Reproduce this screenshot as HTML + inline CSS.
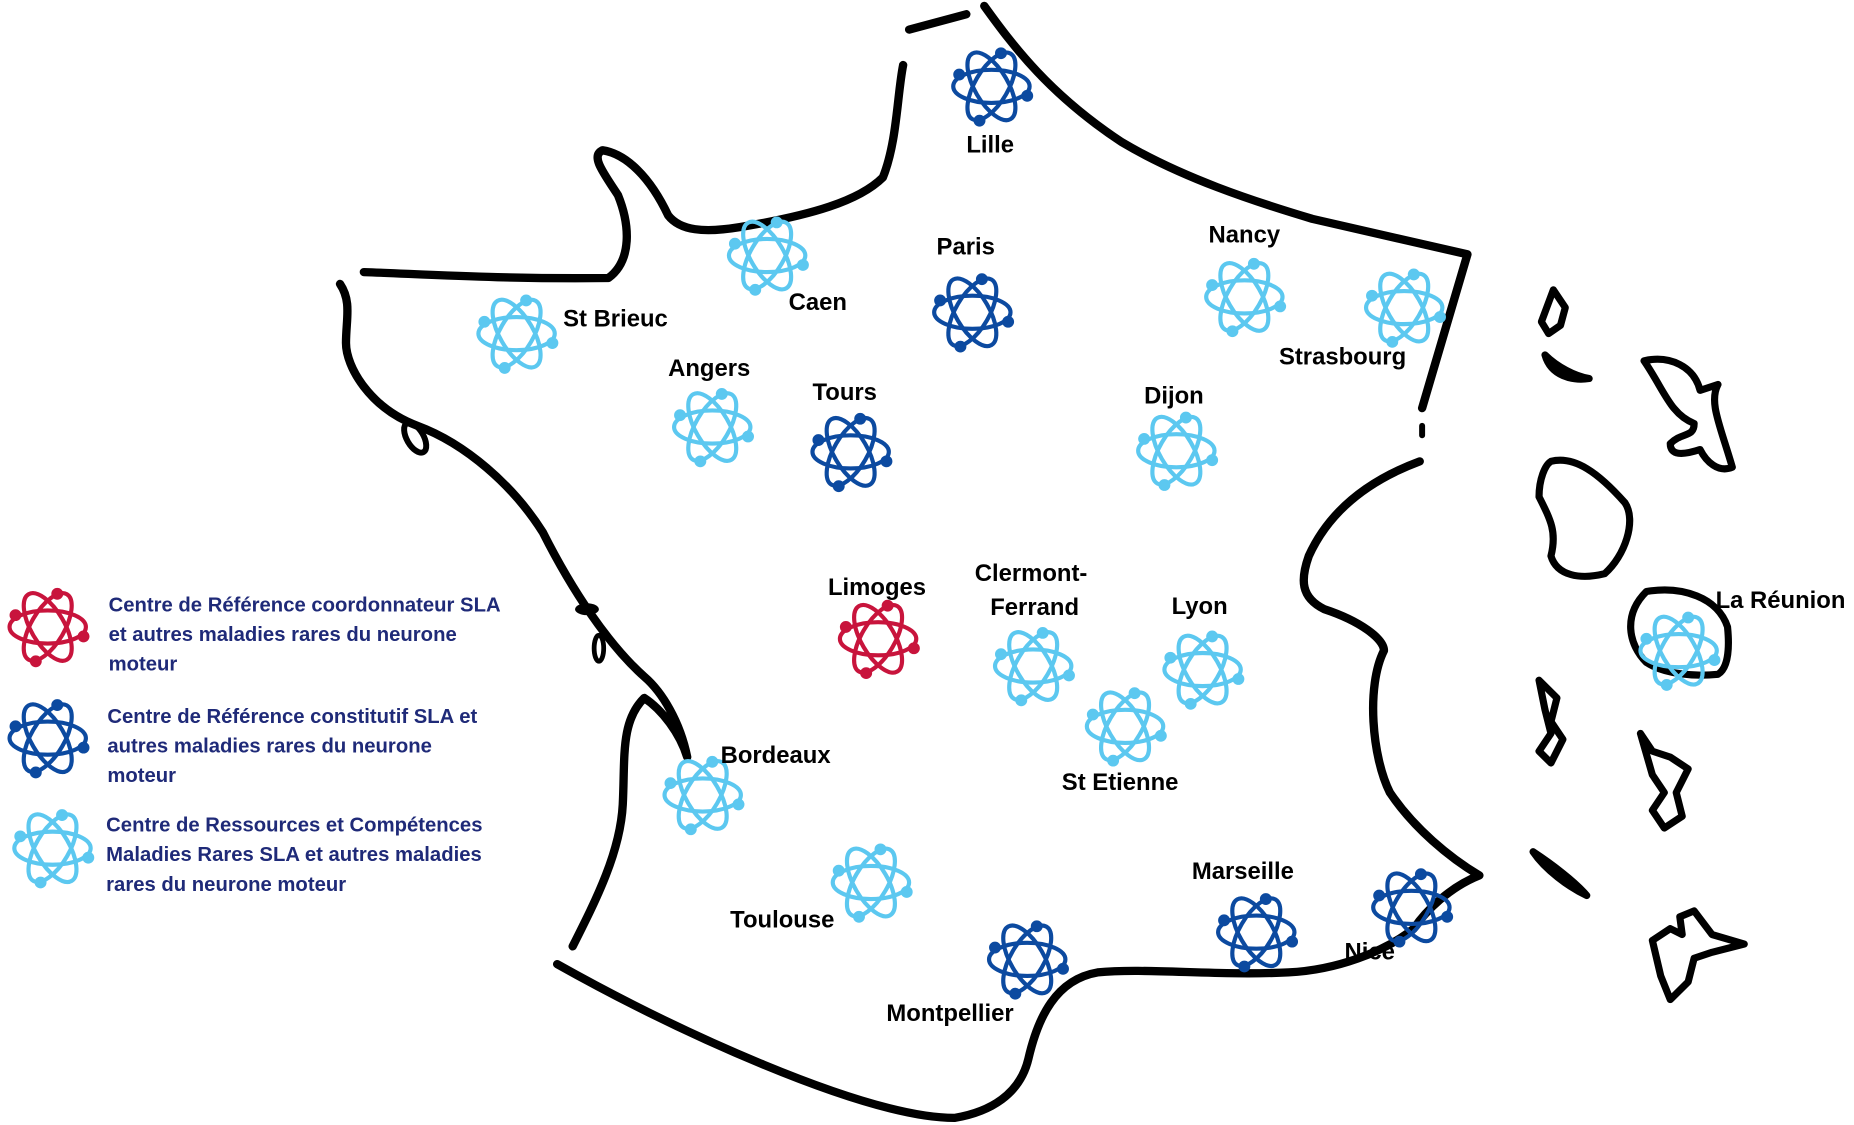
<!DOCTYPE html>
<html><head><meta charset="utf-8"><style>
html,body{margin:0;padding:0;background:#fff;width:1854px;height:1125px;overflow:hidden}
svg{display:block}
text{font-family:"Liberation Sans",sans-serif;font-weight:bold}
</style></head><body>
<svg width="1854" height="1125" viewBox="0 0 1554 951" preserveAspectRatio="none" xmlns="http://www.w3.org/2000/svg">
<defs>
<g id="atom">
<ellipse cx="0" cy="0" rx="32" ry="14" fill="none" stroke-width="3.5"/>
<ellipse cx="0" cy="0" rx="32" ry="14" fill="none" stroke-width="3.5" transform="rotate(60)"/>
<ellipse cx="0" cy="0" rx="32" ry="14" fill="none" stroke-width="3.5" transform="rotate(120)"/>
<circle cx="-27" cy="-10" r="4.5"/><circle cx="30" cy="8" r="4.5"/><circle cx="-10" cy="29" r="4.5"/><circle cx="8" cy="-28" r="4.5"/>
</g>
</defs>
<g fill="none" stroke="#000" stroke-width="7" stroke-linecap="round" stroke-linejoin="round">
<path d="M762 25 L810 12"/>
<path d="M825 5 C850 40 880 80 940 120 C990 150 1050 170 1100 185 L1230 215 C1220 250 1205 300 1192 345"/>
<path d="M1190 390 C1150 405 1115 430 1097 470 C1090 490 1090 505 1110 515 C1140 525 1160 540 1160 550 C1145 580 1150 640 1165 670 C1185 700 1215 725 1240 740 C1215 750 1195 770 1185 785 C1160 805 1120 820 1080 822 C1020 825 960 818 920 822 C885 828 870 860 862 895 C855 925 830 940 800 945 C760 945 700 925 640 900 C580 875 520 845 467 815"/>
<path d="M480 800 C500 760 520 720 522 680 C524 640 520 610 540 590 C555 600 570 620 576 640 C570 610 555 585 540 572 C510 545 480 500 455 450 C430 410 390 375 350 360 C310 345 290 310 290 290 C290 270 295 255 285 240"/>
<path d="M305 230 C360 232 420 236 510 235 C530 220 528 190 518 165 C505 145 495 132 505 127 C525 130 545 150 560 182 C570 195 590 197 620 192 C680 182 720 170 740 150 C752 120 752 80 757 55"/>
<path d="M1192 360 L1192 368" stroke-width="5"/>
</g>
<ellipse cx="348" cy="370" rx="7" ry="14" transform="rotate(-30 348 370)" fill="none" stroke="#000" stroke-width="5"/>
<ellipse cx="492" cy="515" rx="10" ry="5" fill="#000"/>
<ellipse cx="502" cy="548" rx="4" ry="11" fill="none" stroke="#000" stroke-width="4"/>
<g fill="none" stroke="#000" stroke-width="6" stroke-linejoin="round">
<path d="M1302 245 L1312 260 L1308 275 L1298 282 L1292 272 Z"/>
<path d="M1295 300 C1305 310 1320 318 1332 320 C1318 322 1300 318 1295 300 Z"/>
<path d="M1378 305 C1400 300 1420 310 1425 330 L1440 325 C1432 340 1442 360 1452 395 C1440 400 1430 390 1425 380 C1410 385 1400 385 1400 375 C1410 365 1420 370 1420 358 C1400 350 1395 330 1378 305 Z"/>
<path d="M1300 390 C1320 385 1340 400 1362 425 C1372 440 1362 470 1345 485 C1325 490 1305 487 1300 470 C1305 450 1300 440 1290 420 C1290 405 1295 393 1300 390 Z"/>
<path d="M1380 500 C1410 495 1440 505 1448 530 C1450 550 1448 565 1440 570 C1420 572 1395 570 1380 560 C1365 545 1360 520 1380 500 Z"/>
<path d="M1290 575 L1305 590 L1300 610 L1310 625 L1300 645 L1290 635 L1300 620 L1295 600 Z"/>
<path d="M1375 620 L1385 635 L1400 640 L1415 650 L1405 670 L1410 690 L1395 700 L1385 685 L1395 670 L1385 655 Z"/>
<path d="M1285 720 C1300 730 1320 745 1330 757 C1315 750 1295 735 1285 720 Z"/>
<path d="M1385 795 L1400 785 L1410 790 L1408 775 L1420 770 L1435 790 L1462 798 L1435 805 L1420 810 L1415 830 L1400 845 L1392 825 Z"/>
</g>
<g stroke="#c8143c" fill="#c8143c">
<use href="#atom" transform="translate(736,540)"/>
<use href="#atom" transform="translate(40,530)"/>
</g>
<g stroke="#0c4aa0" fill="#0c4aa0">
<use href="#atom" transform="translate(831,73)"/>
<use href="#atom" transform="translate(815,264)"/>
<use href="#atom" transform="translate(713,382)"/>
<use href="#atom" transform="translate(861,811)"/>
<use href="#atom" transform="translate(1053,788)"/>
<use href="#atom" transform="translate(1183,767)"/>
<use href="#atom" transform="translate(40,624)"/>
</g>
<g stroke="#5cc8f0" fill="#5cc8f0">
<use href="#atom" transform="translate(643,216)"/>
<use href="#atom" transform="translate(433,282)"/>
<use href="#atom" transform="translate(597,361)"/>
<use href="#atom" transform="translate(1043,251)"/>
<use href="#atom" transform="translate(1177,260)"/>
<use href="#atom" transform="translate(986,381)"/>
<use href="#atom" transform="translate(866,563)"/>
<use href="#atom" transform="translate(1008,566)"/>
<use href="#atom" transform="translate(943,614)"/>
<use href="#atom" transform="translate(589,672)"/>
<use href="#atom" transform="translate(730,746)"/>
<use href="#atom" transform="translate(1407,550)"/>
<use href="#atom" transform="translate(44,717)"/>
</g>
<g font-size="20" fill="#000">
<text x="810" y="129">Lille</text>
<text x="785" y="215">Paris</text>
<text x="661" y="262">Caen</text>
<text x="472" y="276">St Brieuc</text>
<text x="560" y="318">Angers</text>
<text x="681" y="338">Tours</text>
<text x="1013" y="205">Nancy</text>
<text x="1072" y="308">Strasbourg</text>
<text x="959" y="341">Dijon</text>
<text x="694" y="503">Limoges</text>
<text x="817" y="491">Clermont-</text>
<text x="830" y="520">Ferrand</text>
<text x="982" y="519">Lyon</text>
<text x="890" y="668">St Etienne</text>
<text x="604" y="645">Bordeaux</text>
<text x="612" y="784">Toulouse</text>
<text x="999" y="743">Marseille</text>
<text x="1127" y="811">Nice</text>
<text x="743" y="863">Montpellier</text>
<text x="1438" y="514">La Réunion</text>
</g>
<g font-size="17" fill="#1f2a78">
<text x="91" y="517">Centre de Référence coordonnateur  SLA</text>
<text x="91" y="542">et autres maladies rares du neurone</text>
<text x="91" y="567">moteur</text>
<text x="90" y="611">Centre de Référence constitutif SLA et</text>
<text x="90" y="636">autres maladies rares du neurone</text>
<text x="90" y="661">moteur</text>
<text x="89" y="703">Centre de Ressources et Compétences</text>
<text x="89" y="728">Maladies Rares SLA et autres maladies</text>
<text x="89" y="753">rares du neurone moteur</text>
</g>
</svg>
</body></html>
